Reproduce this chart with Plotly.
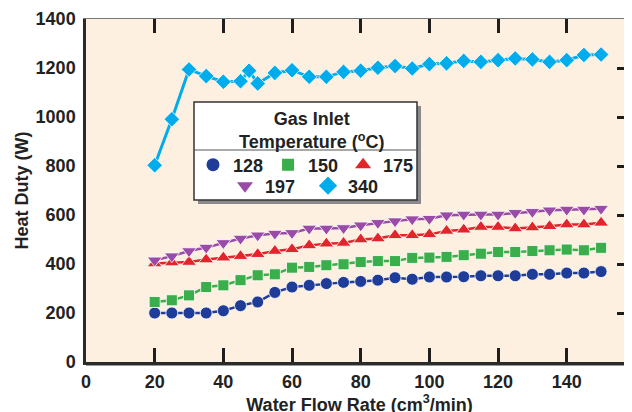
import plotly.graph_objects as go

# ---- data ----
flow = [20, 25, 30, 35, 40, 45, 50, 55, 60, 65, 70, 75, 80, 85, 90, 95, 100,
        105, 110, 115, 120, 125, 130, 135, 140, 145, 150]
flow_340 = [20, 25, 30, 35, 40, 45, 47.5, 50, 55, 60, 65, 70, 75, 80, 85, 90, 95,
            100, 105, 110, 115, 120, 125, 130, 135, 140, 145, 150]

duty_128 = [200, 200, 200, 200, 209, 230, 245, 284, 306, 313, 320, 325, 329, 334, 344, 338,
            347, 347, 348, 352, 352, 352, 358, 358, 363, 363, 369]
duty_150 = [245, 252, 272, 306, 313, 334, 354, 358, 385, 388, 395, 399, 408, 412, 412, 425,
            426, 429, 436, 442, 449, 449, 453, 456, 459, 456, 466]
duty_175 = [402, 406, 408, 418, 426, 432, 440, 453, 460, 476, 483, 486, 500, 504, 517, 517,
            521, 535, 540, 551, 551, 545, 549, 554, 561, 561, 568]
duty_197 = [415, 432, 453, 467, 486, 504, 517, 524, 527, 545, 545, 547, 558, 568, 575, 583,
            585, 599, 602, 602, 602, 609, 613, 619, 622, 622, 626]
duty_340 = [803, 991, 1194, 1167, 1144, 1146, 1189, 1137, 1180, 1191, 1164, 1164, 1184, 1189,
            1201, 1208, 1198, 1216, 1219, 1229, 1225, 1232, 1239, 1235, 1225, 1232, 1253, 1255]

series_names = ["128", "150", "175", "197", "340"]
x_ticks = [0, 20, 40, 60, 80, 100, 120, 140]
y_ticks = [0, 200, 400, 600, 800, 1000, 1200, 1400]

# ---- styles ----
colors = ["#1f3c98", "#3aae4a", "#e2252a", "#9a4ba8", "#00acec"]
symbols = ["circle", "square", "triangle-up", "triangle-down", "diamond"]
sizes = [12, 11, 13, 13, 12]
leg_sizes = [13, 12, 14, 14, 14]
line_w = [2.5, 2.5, 2.5, 2.5, 3]
legend_of = ["legend", "legend", "legend", "legend2", "legend2"]
FONT = "Liberation Sans, Arial, Helvetica, sans-serif"
TXT = "#222222"
TICK = "#1e1e1e"

xs = [flow, flow, flow, flow, flow_340]
ys = [duty_128, duty_150, duty_175, duty_197, duty_340]

fig = go.Figure()
for i in range(5):
    fig.add_trace(go.Scatter(
        x=xs[i], y=ys[i], mode="lines+markers", name=series_names[i],
        line=dict(color=colors[i], width=line_w[i]),
        marker=dict(symbol=symbols[i], size=sizes[i], color=colors[i],
                    line=dict(color="white", width=0.8)),
        showlegend=False))

# legend-only entries (markers only), on the overlay axes
for i in range(5):
    fig.add_trace(go.Scatter(
        x=[None], y=[None], mode="markers", name=series_names[i],
        marker=dict(symbol=symbols[i], size=leg_sizes[i], color=colors[i]),
        legend=legend_of[i], xaxis="x2", yaxis="y2", showlegend=True))

# page body has an 8px default margin -> figure coords = screen coords - 8
W, H = 632, 412
OFF = 8
L, T = 86 - OFF, 19 - OFF
R = W - (633 - OFF)
B = H - (362 - OFF)
pw, ph = 547, 343

def px(x):
    return (x - 86) / pw

def py(y):
    return (362 - y) / ph

shapes = [
    # axis shadow
    dict(type="line", xref="paper", yref="paper", x0=0, x1=1, y0=py(364.5), y1=py(364.5),
         line=dict(color="#9a9a9a", width=3), layer="below"),
    # legend box shadow
    dict(type="rect", xref="paper", yref="paper", x0=px(198), x1=px(421), y0=py(204), y1=py(106),
         fillcolor="#8a8a8a", line=dict(width=0), layer="above"),
    # legend box
    dict(type="rect", xref="paper", yref="paper", x0=px(194), x1=px(417), y0=py(200), y1=py(102),
         fillcolor="white", line=dict(color="#333333", width=1.5), layer="above"),
    dict(type="line", xref="paper", yref="paper", x0=px(194), x1=px(417), y0=py(150), y1=py(150),
         line=dict(color="#555555", width=1.2), layer="above"),
]

fig.update_layout(
    width=W, height=H,
    margin=dict(l=L, r=R, t=T, b=B, pad=0),
    paper_bgcolor="white", plot_bgcolor="#fdf0e1",
    font=dict(family=FONT, size=18, color=TXT, weight="bold"),
    xaxis=dict(range=[0, 159.3], tickvals=x_ticks, ticks="inside", ticklen=14, tickwidth=2.5,
               tickcolor=TICK, showline=True, linecolor="#2a2a2a", linewidth=2.5,
               showgrid=False, zeroline=False, tickfont=dict(size=18, weight="bold"),
               automargin=False, ticklabelstandoff=2,
               title=dict(text="Water Flow Rate (cm<sup>3</sup>/min)", standoff=1,
                          font=dict(size=18, weight="bold"))),
    yaxis=dict(range=[0, 1400], tickvals=y_ticks, ticks="", showline=True,
               linecolor="#2a2a2a", linewidth=2.5, showgrid=False, zeroline=False,
               tickfont=dict(size=18, weight="bold"), ticklabelstandoff=4, automargin=False,
               title=dict(text="Heat Duty (W)", standoff=3, font=dict(size=18, weight="bold"))),
    xaxis2=dict(range=[0, 159.3], overlaying="x", side="top", anchor="y2", automargin=False,
                tickvals=x_ticks[1:], ticks="inside", ticklen=14, tickwidth=2.5,
                tickcolor=TICK, showticklabels=False, showline=True,
                linecolor="#777777", linewidth=1, showgrid=False, zeroline=False),
    yaxis2=dict(range=[0, 1400], overlaying="y", side="right", anchor="x2", automargin=False,
                tickvals=y_ticks[1:-1], ticks="inside", ticklen=16, tickwidth=2.5,
                tickcolor=TICK, showticklabels=False, showline=True,
                linecolor="#777777", linewidth=1, showgrid=False, zeroline=False),
    legend=dict(orientation="h", x=px(193), y=py(165), xanchor="left", yanchor="middle",
                bgcolor="rgba(0,0,0,0)", borderwidth=0,
                font=dict(size=18, weight="bold", color=TXT), itemwidth=30,
                tracegroupgap=0),
    legend2=dict(orientation="h", x=px(225), y=py(186), xanchor="left", yanchor="middle",
                 bgcolor="rgba(0,0,0,0)", borderwidth=0, entrywidth=38,
                 font=dict(size=18, weight="bold", color=TXT), itemwidth=30),
    shapes=shapes,
    annotations=[dict(text="Gas Inlet<br>Temperature (<sup>o</sup>C)", xref="paper", yref="paper",
                      x=px(311), y=py(130), xanchor="center", yanchor="middle",
                      showarrow=False, align="center",
                      font=dict(size=18, weight="bold", color=TXT))],
)

fig.write_html("out.html")
